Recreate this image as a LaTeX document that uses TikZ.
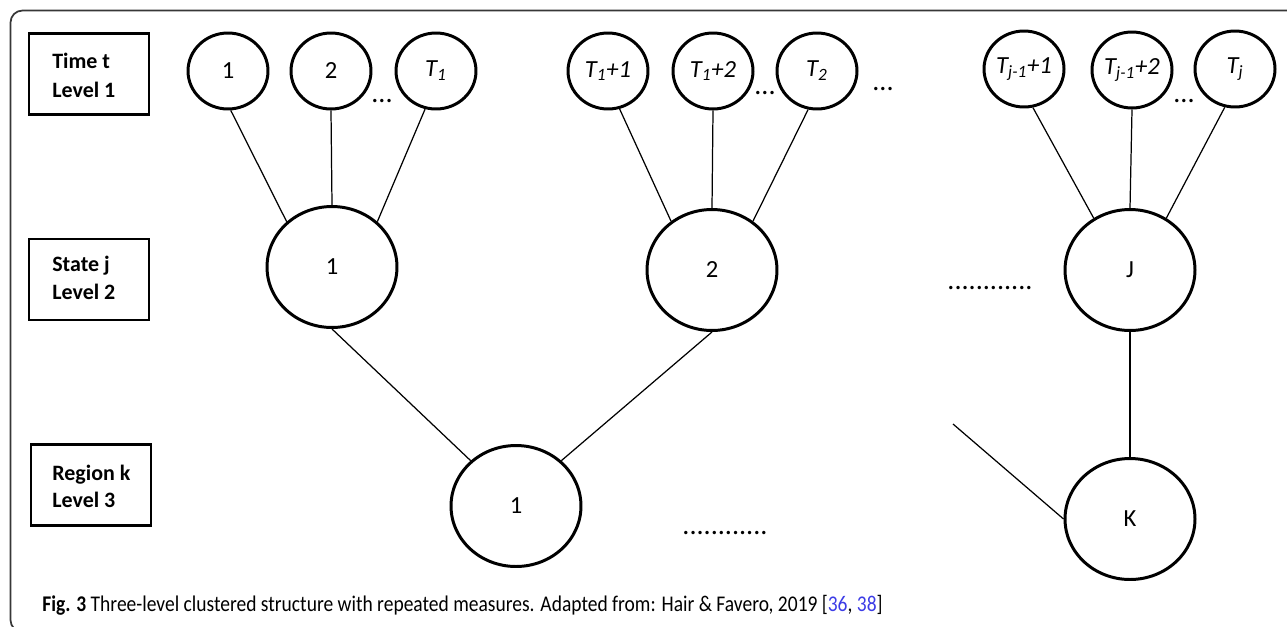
\documentclass[tikz,border=0pt]{standalone}
\usepackage{fontspec}
\setmainfont{Carlito}
\usetikzlibrary{shapes.geometric}
\definecolor{citeblue}{RGB}{60,60,230}
\definecolor{framegray}{RGB}{55,55,55}

\begin{document}
\begin{tikzpicture}[x=0.02cm,y=-0.02cm,
  lvl/.style={draw,line width=1.4pt,minimum width=2.4cm,minimum height=1.62cm,inner sep=0pt},
  lvltext/.style={anchor=base west,inner sep=0pt,font=\fontsize{12.5}{15}\selectfont\bfseries},
  tnode/.style={ellipse,draw,line width=1.7pt,minimum width=1.6cm,minimum height=1.52cm,inner sep=0pt,font=\fontsize{14}{16}\selectfont},
  bignode/.style={ellipse,draw,line width=1.7pt,minimum width=2.6cm,minimum height=2.42cm,inner sep=0pt,font=\fontsize{14}{16}\selectfont},
  link/.style={line width=0.7pt},
  dotrow/.style={anchor=base,inner sep=0pt,font=\fontsize{16}{18}\selectfont},
  frame/.style={draw=framegray,line width=1pt,rounded corners=0.24cm}
]
\useasboundingbox (0,0) rectangle (1287,626);

% outer frame, open towards the right and bottom edges
\begin{scope}
  \clip (0,0) rectangle (1287,626);
  \draw[frame] (10.5,10.5) rectangle (1330,632);
\end{scope}

% level boxes
\node[lvl] (box1) at (89,74) {};
\node[lvl] (box2) at (89,279.5) {};
\node[lvl] (box3) at (91,485) {};
\node[lvltext] (box1a) at (52,68) {Time t};
\node[lvltext] (box1b) at (52,97) {Level 1};
\node[lvltext] (box2a) at (52,271) {State j};
\node[lvltext] (box2b) at (52,299) {Level 2};
\node[lvltext] (box3a) at (52,480) {Region k};
\node[lvltext] (box3b) at (52,507) {Level 3};

% level 1: time points
\node[tnode] (t1) at (228,71) {1};
\node[tnode] (t2) at (331,71) {2};
\node[tnode] (tT1) at (436,71) {\itshape T\textsubscript{1}};
\node[tnode] (tT11) at (608,71) {\itshape T\textsubscript{1}+1};
\node[tnode] (tT12) at (713,71) {\itshape T\textsubscript{1}+2};
\node[tnode] (tT2) at (817,71) {\itshape T\textsubscript{2}};
\node[tnode] (tJ1) at (1024,69) {\itshape T\textsubscript{j-1}+1};
\node[tnode] (tJ2) at (1132,70) {\itshape T\textsubscript{j-1}+2};
\node[tnode] (tJ) at (1235,69) {\itshape T\textsubscript{j}};

\node[dotrow] (d1) at (382,102) {...};
\node[dotrow] (d2) at (765,94) {...};
\node[dotrow] (d3) at (883,90) {...};
\node[dotrow] (d4) at (1184,102) {...};

% level 2: states
\node[bignode] (s1) at (332,267) {1};
\node[bignode] (s2) at (712,270) {2};
\node[bignode] (sJ) at (1130,270) {J};
\node[dotrow] (d5) at (990,289) {............};

% level 3: regions
\node[bignode] (r1) at (516,506) {1};
\node[bignode] (rK) at (1130,519) {K};
\node[dotrow] (d6) at (725,534) {............};
\coordinate (loose) at (953,424);

% connectors
\draw[link] (t1.-86) -- (s1.135);
\draw[link] (t2.south) -- (s1.north);
\draw[link] (tT1.-106) -- (s1.45);
\draw[link] (tT11.-73) -- (s2.130);
\draw[link] (tT12.south) -- (s2.north);
\draw[link] (tT2.-103) -- (s2.50);
\draw[link] (tJ1.-77) -- (sJ.125);
\draw[link] (tJ2.south) -- (sJ.north);
\draw[link] (tJ.-105) -- (sJ.55);
\draw[link] (s1.south) -- (r1.135);
\draw[link] (s2.south) -- (r1.45);
\draw[link] (sJ.south) -- (rK.north);
\draw[link] (loose) -- (rK.west);

% caption, set in a slightly tall, narrow face
\node[anchor=base west,inner sep=0pt,font=\fontsize{11.1}{12}\selectfont] (caption) at (42,611)
  {\scalebox{1}[1.15]{\textbf{Fig. 3} Three-level clustered structure with repeated measures. Adapted from: Hair \& Favero, 2019 [\textcolor{citeblue}{36}, \textcolor{citeblue}{38}]}};
\end{tikzpicture}
\end{document}
